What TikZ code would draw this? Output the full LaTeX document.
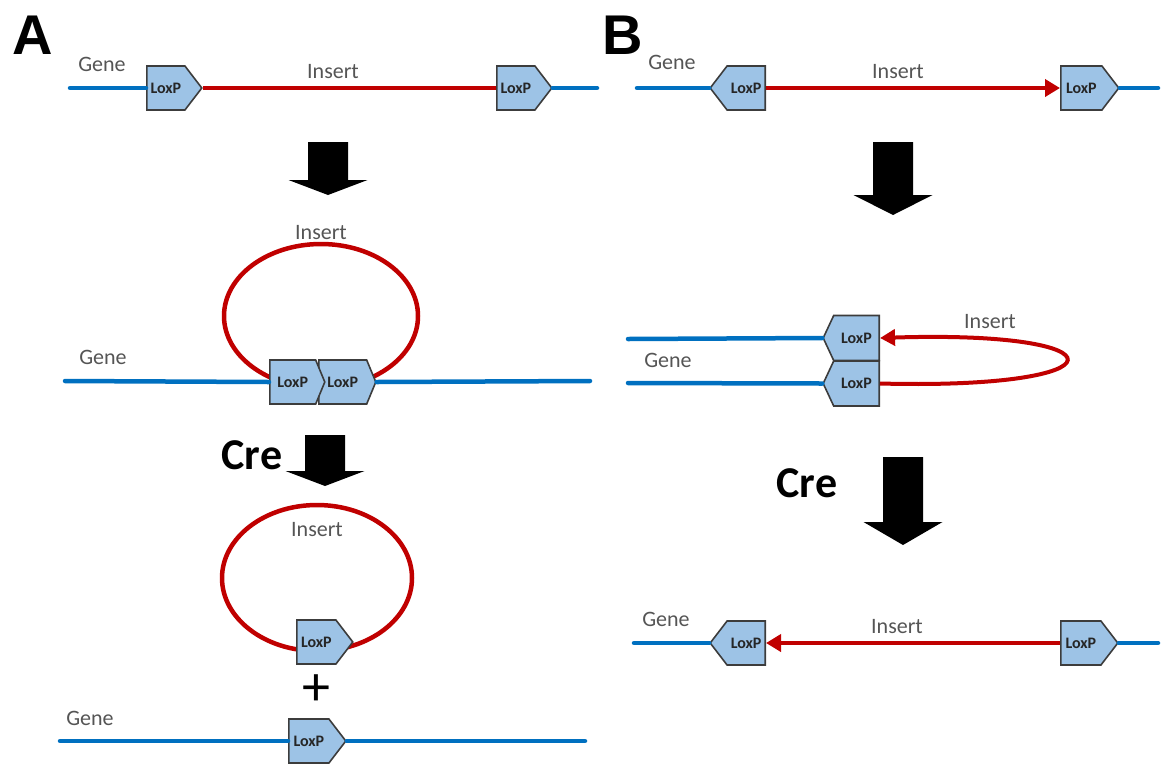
\documentclass[tikz,border=0pt]{standalone}
\usepackage{fontspec}
\setmainfont{Carlito}
\newfontfamily\arialfont{Liberation Sans}
\usetikzlibrary{shapes.symbols,arrows.meta}
\definecolor{genecol}{RGB}{0,112,192}
\definecolor{inscol}{RGB}{192,0,0}
\definecolor{loxfill}{RGB}{157,195,230}
\definecolor{loxdraw}{RGB}{60,60,60}
\definecolor{labgray}{RGB}{85,85,85}
\newcommand{\myblockarrow}[4]{% center x, top, head start, tip
  \fill[black] ({#1-20},#2) -- ({#1+20},#2) -- ({#1+20},#3) -- ({#1+39.5},#3)
    -- (#1,#4) -- ({#1-39.5},#3) -- ({#1-20},#3) -- cycle;}
\tikzset{
  gene/.style={draw=genecol,line width=4.5pt,line cap=round},
  ins/.style={draw=inscol,line width=4.5pt},
  loxbox/.style={shape=signal,draw=loxdraw,fill=loxfill,line width=1.6pt,
    minimum width=55pt,minimum height=44pt,inner sep=0pt,signal pointer angle=105,
    font=\fontsize{16}{16}\selectfont\bfseries,text=black!85},
  loxE/.style={loxbox,signal to=east,anchor=west},
  loxW/.style={loxbox,signal to=west,anchor=east},
  lab/.style={font=\fontsize{22}{24}\selectfont,text=labgray},
  panel/.style={font=\arialfont\fontsize{56}{56}\selectfont\bfseries},
  cre/.style={font=\fontsize{44}{44}\selectfont\bfseries},
}
\begin{document}
\begin{tikzpicture}[x=1pt,y=-1pt]
\useasboundingbox (0,0) rectangle (1162,764);
% ---------- Panel A ----------
\node[panel] (pA) at (33,35) {A};
% top
\node[loxE] (lA1) at (146,88) {LoxP};
\node[loxE] (lA2) at (496,88) {LoxP};
\coordinate (gA1s) at (70,88);
\coordinate (gA1e) at (597,88);
\draw[gene] (gA1s) -- (lA1.west);
\draw[ins] (lA1.east) -- (lA2.west);
\draw[gene] (lA2.east) -- (gA1e);
\node[lab] (tGA1) at (102,64) {Gene};
\node[lab] (tIA1) at (333,72) {Insert};
\myblockarrow{328}{142}{180}{195}
% middle
\draw[inscol,line width=4.5pt] (321,316) ellipse [x radius=97,y radius=72];
\node[lab] (tIA2) at (321,233) {Insert};
\node[loxE,signal pointer angle=135,minimum width=57pt] (mA2) at (318,382) {LoxP};
\node[loxE,signal pointer angle=135] (mA1) at (269,382) {LoxP};
\coordinate (gA2s) at (65,381);
\coordinate (gA2e) at (590,381);
\draw[gene] (gA2s) -- (mA1.west);
\draw[gene] (mA2.east) -- (gA2e);
\node[lab] (tGA2) at (103,357) {Gene};
\node[cre] (cA) at (252,455) {Cre};
\myblockarrow{325}{435}{471}{486}
% bottom
\draw[inscol,line width=4.5pt] (317,578) ellipse [x radius=95,y radius=73];
\node[lab] (tIA3) at (317,530) {Insert};
\node[loxE,minimum width=56pt] (bA1) at (296,642) {LoxP};
\node[font=\fontsize{56}{56}\selectfont] (plus) at (316,690) {+};
\node[loxE,minimum width=57pt] (cA1) at (288,741) {LoxP};
\coordinate (gA3s) at (60,741);
\coordinate (gA3e) at (585,741);
\draw[gene] (gA3s) -- (cA1.west);
\draw[gene] (cA1.east) -- (gA3e);
\node[lab] (tGA3) at (90,718) {Gene};
% ---------- Panel B ----------
\node[panel] (pB) at (623,35) {B};
% top
\node[loxW] (lB1) at (766,88) {LoxP};
\node[loxE,minimum width=58pt] (lB2) at (1060,88) {LoxP};
\coordinate (gB1s) at (637,88);
\coordinate (gB1e) at (1158,88);
\draw[gene] (gB1s) -- (lB1.west);
\draw[ins,-{Triangle[length=15pt,width=17pt]}] (lB1.east) -- (lB2.west);
\draw[gene] (lB2.east) -- (gB1e);
\node[lab] (tGB1) at (672,62) {Gene};
\node[lab] (tIB1) at (898,72) {Insert};
\myblockarrow{893}{142}{195}{215}
% middle
\node[loxW,signal pointer angle=130,minimum width=56pt,minimum height=45pt] (uB) at (880,338) {LoxP};
\node[loxW,signal pointer angle=130,minimum width=56pt,minimum height=45pt] (dB) at (880,383.5) {LoxP};
\coordinate (gB2s) at (628,339);
\coordinate (gB3s) at (628,383);
\draw[gene] (gB2s) -- (uB.west);
\draw[gene] (gB3s) -- (dB.west);
\draw[inscol,line width=4pt,-{Triangle[length=15pt,width=16pt]}] (dB.east) .. controls (1128,390) and (1128,330) .. (uB.east);
\node[lab] (tIB2) at (990,322) {Insert};
\node[lab] (tGB2) at (668,360) {Gene};
\node[cre] (cB) at (807,483) {Cre};
\myblockarrow{903}{457}{522}{545}
% bottom
\node[loxW] (dB1) at (766,643) {LoxP};
\node[loxE,minimum width=57pt] (dB2) at (1060,643) {LoxP};
\coordinate (gB4s) at (634,643);
\coordinate (gB4e) at (1158,643);
\draw[gene] (gB4s) -- (dB1.west);
\draw[ins,-{Triangle[length=15pt,width=17pt]}] (dB2.west) -- (dB1.east);
\draw[gene] (dB2.east) -- (gB4e);
\node[lab] (tGB3) at (666,619) {Gene};
\node[lab] (tIB3) at (897,627) {Insert};
\end{tikzpicture}
\end{document}
